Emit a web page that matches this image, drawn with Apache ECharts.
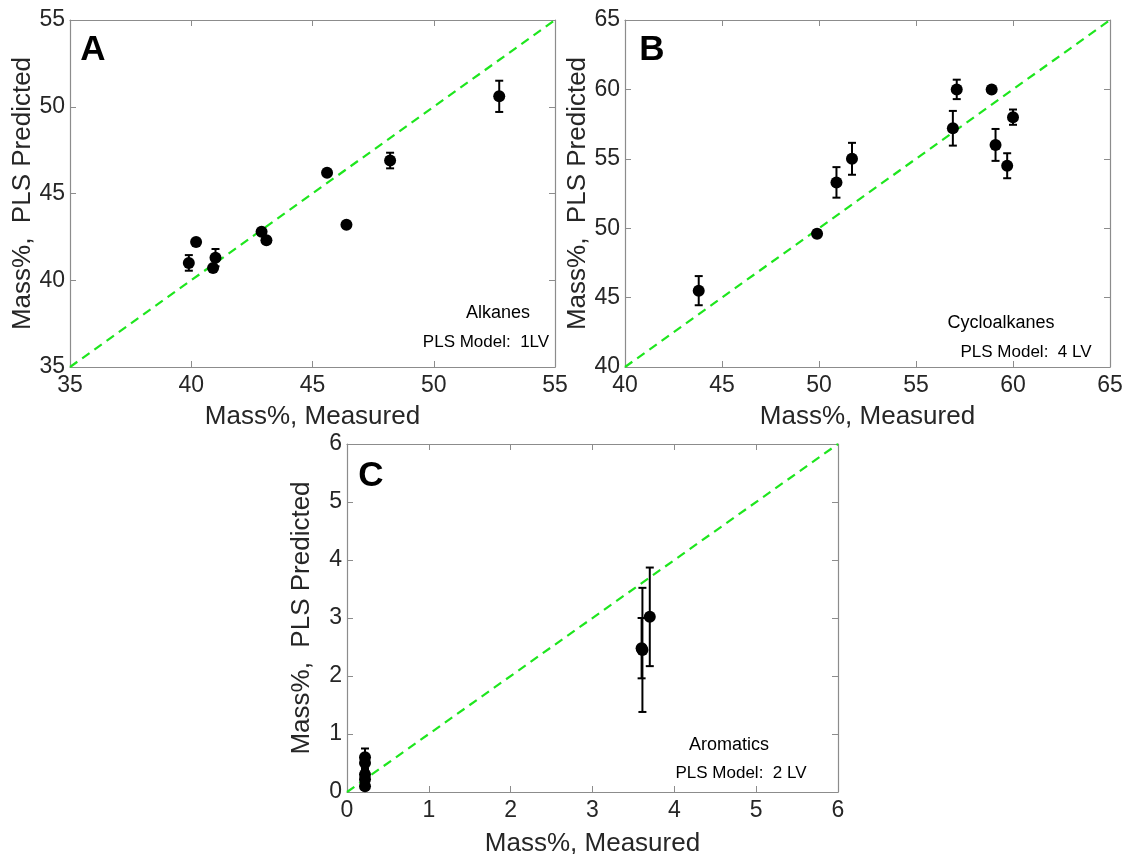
<!DOCTYPE html>
<html>
<head>
<meta charset="utf-8">
<title>PLS predicted vs measured</title>
<script src="https://cdn.jsdelivr.net/npm/echarts@6/dist/echarts.min.js"></script>
<style>
  html, body { margin: 0; padding: 0; background: #fff; }
  #main { width: 1133px; height: 854px; }
</style>
</head>
<body>
<div id="main"></div>
<script>
// panel A - alkanes
var alkMeasured  = [39.9, 40.2, 40.9, 41.0, 42.9, 43.1, 45.6, 46.4, 48.2, 52.7];
var alkPredicted = [41.0, 42.2, 40.7, 41.3, 42.8, 42.3, 46.2, 43.2, 46.9, 50.6];
var alkError     = [0.45, 0, 0, 0.5, 0, 0, 0, 0, 0.45, 0.9];

// panel B - cycloalkanes
var cycMeasured  = [43.8, 49.9, 50.9, 51.7, 56.9, 57.1, 58.9, 59.1, 59.7, 60.0];
var cycPredicted = [45.5, 49.6, 53.3, 55.0, 57.2, 60.0, 60.0, 56.0, 54.5, 58.0];
var cycError     = [1.05, 0.25, 1.1, 1.15, 1.25, 0.7, 0, 1.15, 0.9, 0.55];

// panel C - aromatics
var aroMeasured  = [0.22, 0.22, 0.22, 0.22, 0.22, 3.6, 3.61, 3.7];
var aroPredicted = [0.6, 0.5, 0.3, 0.22, 0.1, 2.48, 2.45, 3.02];
var aroError     = [0.15, 0.1, 0.08, 0.05, 0.05, 0.52, 1.07, 0.85];

var font = 'Liberation Sans, Arial, sans-serif';

function pairs(xs, ys) {
    var out = [];
    for (var i = 0; i < xs.length; i++) out.push([xs[i], ys[i]]);
    return out;
}
function bars(xs, ys, es) {
    var out = [];
    for (var i = 0; i < xs.length; i++) {
        if (es[i] > 0) out.push([xs[i], ys[i] - es[i], ys[i] + es[i]]);
    }
    return out;
}

function errorItem(params, api) {
    var x = api.value(0);
    var top = api.coord([x, api.value(2)]);
    var bot = api.coord([x, api.value(1)]);
    var c = 4;
    var st = { stroke: '#000', lineWidth: 2 };
    return {
        type: 'group',
        children: [
            { type: 'line', shape: { x1: top[0], y1: top[1], x2: bot[0], y2: bot[1] }, style: st },
            { type: 'line', shape: { x1: top[0] - c, y1: top[1], x2: top[0] + c, y2: top[1] }, style: st },
            { type: 'line', shape: { x1: bot[0] - c, y1: bot[1], x2: bot[0] + c, y2: bot[1] }, style: st }
        ]
    };
}

var grids = [
    { left: 70, top: 20, width: 485, height: 347, outerBoundsMode: 'none' },
    { left: 625, top: 20, width: 485, height: 347, outerBoundsMode: 'none' },
    { left: 347, top: 444, width: 491, height: 348, outerBoundsMode: 'none' }
];
var ranges = [[35, 55, 5], [40, 65, 5], [0, 6, 1]];
var xGaps = [37, 37, 39];

var xAxes = [], yAxes = [], series = [];
ranges.forEach(function (r, g) {
    var base = {
        gridIndex: g, type: 'value', min: r[0], max: r[1], interval: r[2],
        splitLine: { show: false },
        axisLine: { onZero: false, lineStyle: { color: '#8c8c8c', width: 1.2 } },
        axisTick: { inside: true, length: 6, lineStyle: { color: '#8c8c8c' } }
    };
    xAxes.push(Object.assign({}, base, {
        position: 'bottom', name: 'Mass%, Measured', nameLocation: 'middle', nameGap: xGaps[g],
        nameTextStyle: { fontSize: 26, color: '#262626', fontFamily: font },
        axisLabel: { fontSize: 23, color: '#262626', fontFamily: font, margin: 7 }
    }));
    xAxes.push(Object.assign({}, base, { position: 'top', axisLabel: { show: false } }));
    yAxes.push(Object.assign({}, base, {
        position: 'left', name: 'Mass%,  PLS Predicted', nameLocation: 'middle', nameGap: 32,
        nameTextStyle: { fontSize: 26, color: '#262626', fontFamily: font },
        axisLabel: { fontSize: 23, color: '#262626', fontFamily: font, margin: 5 }
    }));
    yAxes.push(Object.assign({}, base, { position: 'right', axisLabel: { show: false } }));
});

var panels = [
    [alkMeasured, alkPredicted, alkError],
    [cycMeasured, cycPredicted, cycError],
    [aroMeasured, aroPredicted, aroError]
];
panels.forEach(function (p, g) {
    var r = ranges[g];
    series.push({
        type: 'line', xAxisIndex: g * 2, yAxisIndex: g * 2, symbol: 'none', silent: true,
        data: [[r[0], r[0]], [r[1], r[1]]],
        lineStyle: { color: '#1ee61e', width: 2.2, type: [9, 6] }, z: 1
    });
    series.push({
        type: 'custom', xAxisIndex: g * 2, yAxisIndex: g * 2,
        renderItem: errorItem, data: bars(p[0], p[1], p[2]), z: 2
    });
    series.push({
        type: 'scatter', xAxisIndex: g * 2, yAxisIndex: g * 2, symbolSize: 12,
        itemStyle: { color: '#000', opacity: 1 }, data: pairs(p[0], p[1]), z: 3
    });
});

function txt(x, y, s, size, bold) {
    return {
        type: 'text', x: x, y: y,
        style: {
            text: s, fontSize: size, fontWeight: bold ? 'bold' : 'normal', fill: '#000',
            fontFamily: font, textAlign: 'center', textVerticalAlign: 'middle'
        }
    };
}

var chart = echarts.init(document.getElementById('main'));
chart.setOption({
    backgroundColor: '#fff',
    animation: false,
    grid: grids,
    xAxis: xAxes,
    yAxis: yAxes,
    series: series,
    graphic: [
        txt(93, 50, 'A', 35, true),
        txt(652, 50, 'B', 35, true),
        txt(371, 476, 'C', 35, true),
        txt(498, 313, 'Alkanes', 18),
        txt(486, 342, 'PLS Model:  1LV', 17),
        txt(1001, 323, 'Cycloalkanes', 18),
        txt(1026, 352, 'PLS Model:  4 LV', 17),
        txt(729, 745, 'Aromatics', 18),
        txt(741, 773, 'PLS Model:  2 LV', 17)
    ]
});
</script>
</body>
</html>
